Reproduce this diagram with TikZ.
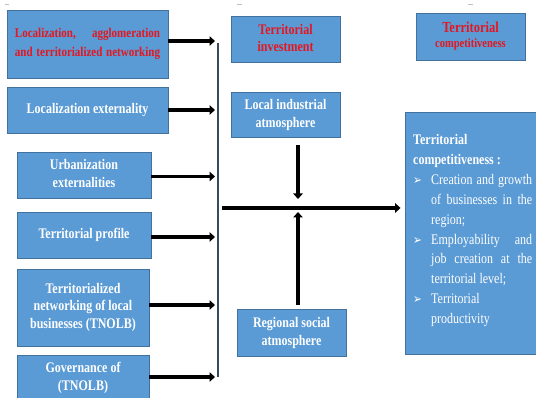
\documentclass[tikz,border=0pt]{standalone}
\usepackage{graphicx}
\usepackage{fontspec}
\setmainfont{Liberation Serif}
\newfontfamily\dingfont{DejaVu Sans}
\usetikzlibrary{arrows.meta}
\definecolor{boxfill}{RGB}{91,155,213}
\definecolor{boxedge}{RGB}{65,113,156}
\definecolor{headred}{RGB}{228,22,32}
\definecolor{busline}{RGB}{60,74,94}
% justified line of a given width
\newcommand{\jline}[2]{\makebox[#1][s]{#2}}
% centred lines, set slightly tall
\newcommand{\tallc}[1]{\scalebox{1}[1.22]{\begin{tabular}{@{}c@{}}#1\end{tabular}}}
\newcommand{\bul}{\makebox[18pt][l]{\dingfont\fontsize{10.5}{10}\selectfont ➢}}
\begin{document}
\begin{tikzpicture}[x=1pt,y=-1pt,
  blockbox/.style={draw=boxedge,line width=0.9pt,fill=boxfill,inner sep=0pt,
    text=white,font=\fontsize{12}{14.3}\selectfont\bfseries,align=center},
  redtext/.style={text=headred},
  flowarrow/.style={line width=3.4pt,draw=black,-{Triangle[length=5.5pt,width=9.5pt]}},
  busstyle/.style={line width=1.6pt,draw=busline},
  tick/.style={line width=0.8pt,draw=black!25}]
\useasboundingbox (0,0) rectangle (536,398);
\begin{scope}
\clip (0,0) rectangle (536,398);

% small marks along the top edge
\coordinate (t1a) at (5,4);   \coordinate (t1b) at (9,4);
\coordinate (t2a) at (237,4); \coordinate (t2b) at (242,4);
\coordinate (t3a) at (468,4); \coordinate (t3b) at (473,4);
\draw[tick] (t1a) -- (t1b);
\draw[tick] (t2a) -- (t2b);
\draw[tick] (t3a) -- (t3b);

% left column: determinants
\node[blockbox,minimum width=161pt,minimum height=68pt] (b1) at (87.5,44)
  {\scalebox{1}[1.22]{\parbox{145pt}{\color{headred}\fontsize{11}{15.6}\selectfont
   \jline{145pt}{Localization, agglomeration}\\
   \jline{145pt}{and territorialized networking}}}};
\node[blockbox,minimum width=161pt,minimum height=46pt] (b2) at (87.5,110)
  {\tallc{Localization externality}};
\node[blockbox,minimum width=134pt,minimum height=46pt] (b3) at (84,175)
  {\tallc{Urbanization\\externalities}};
\node[blockbox,minimum width=134pt,minimum height=46pt] (b4) at (84,235)
  {\tallc{Territorial profile}};
\node[blockbox,minimum width=132pt,minimum height=77pt] (b5) at (83,307.5)
  {\tallc{Territorialized\\networking of local\\businesses (TNOLB)}};
\node[blockbox,minimum width=132pt,minimum height=45pt] (b6) at (83,378)
  {\tallc{Governance of\\(TNOLB)}};

% middle column
\node[blockbox,redtext,minimum width=109pt,minimum height=46pt,
  font=\fontsize{12}{13.9}\selectfont\bfseries] (m1) at (285.5,39.5)
  {\tallc{Territorial\\investment}};
\node[blockbox,minimum width=109pt,minimum height=45pt,
  font=\fontsize{12}{14.8}\selectfont\bfseries] (m2) at (285.5,114.5)
  {\tallc{Local industrial\\atmosphere}};
\node[blockbox,minimum width=109pt,minimum height=47pt,
  font=\fontsize{12}{14.8}\selectfont\bfseries] (m3) at (291.5,332.5)
  {\tallc{Regional social\\atmosphere}};

% right column
\node[blockbox,redtext,minimum width=109pt,minimum height=47pt,
  font=\fontsize{12}{12.3}\selectfont\bfseries] (r1) at (470.5,36.5)
  {\tallc{\fontsize{12.5}{12.3}\selectfont Territorial\\\fontsize{10.5}{12.3}\selectfont competitiveness}};
\node[blockbox,minimum width=133pt,minimum height=242pt] (r2) at (471.5,233) {};
\node[anchor=base west,inner sep=0pt,text=white] (r2text) at (413,145)
  {\scalebox{1}[1.22]{\begin{minipage}[t]{122pt}\fontsize{12}{16.25}\selectfont
   \textbf{Territorial}\\
   \textbf{competitiveness :}\\
   \bul\jline{101pt}{Creation and growth}\\
   \hspace*{18pt}\jline{101pt}{of businesses in the}\\
   \hspace*{18pt}region;\\
   \bul\jline{101pt}{Employability and}\\
   \hspace*{18pt}\jline{101pt}{job creation at the}\\
   \hspace*{18pt}territorial level;\\
   \bul Territorial\\
   \hspace*{18pt}productivity
   \end{minipage}}};

% collecting bus and its arrows
\coordinate (bustip) at (215,0);
\coordinate (bustop) at (218,43);
\coordinate (busbot) at (218,377);
\draw[busstyle] (bustop) -- (busbot);
\draw[flowarrow] ([yshift=3pt]b1.east) -- ([yshift=3pt]b1.east -| bustip);
\draw[flowarrow] (b2.east) -- (b2.east -| bustip);
\draw[flowarrow] ([yshift=-1.5pt]b3.east) -- ([yshift=-1.5pt]b3.east -| bustip);
\draw[flowarrow] ([yshift=-2pt]b4.east) -- ([yshift=-2pt]b4.east -| bustip);
\draw[flowarrow] ([yshift=2.5pt]b5.east) -- ([yshift=2.5pt]b5.east -| bustip);
\draw[flowarrow] ([yshift=1pt]b6.east) -- ([yshift=1pt]b6.east -| bustip);

% main flow towards competitiveness
\coordinate (hub) at (222,208);
\draw[flowarrow,shorten >=4pt] (hub) -- (hub -| r2.west);

% atmospheres feeding the main flow
\coordinate (dstart) at (298,145);
\coordinate (dend) at (298,199);
\coordinate (ustart) at (298,305);
\coordinate (uend) at (298,212);
\draw[flowarrow] (dstart) -- (dend);
\draw[flowarrow] (ustart) -- (uend);
\end{scope}
\end{tikzpicture}
\end{document}
